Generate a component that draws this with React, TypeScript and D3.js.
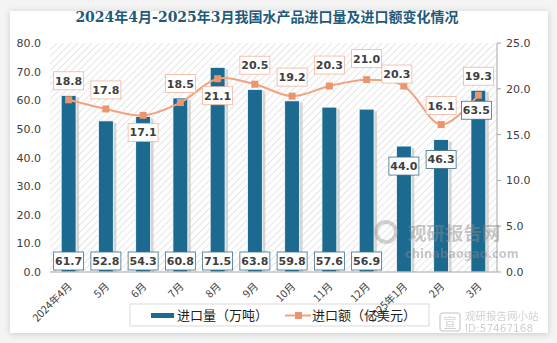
import React from "react";
import * as d3 from "d3";

const categories = ["2024年4月", "5月", "6月", "7月", "8月", "9月", "10月", "11月", "12月", "2025年1月", "2月", "3月"];
const volume = [61.7, 52.8, 54.3, 60.8, 71.5, 63.8, 59.8, 57.6, 56.9, 44.0, 46.3, 63.5];
const amount = [18.8, 17.8, 17.1, 18.5, 21.1, 20.5, 19.2, 20.3, 21.0, 20.3, 16.1, 19.3];
const leftTicks = [0, 10, 20, 30, 40, 50, 60, 70, 80];
const rightTicks = [0, 5, 10, 15, 20, 25];
// label placement: bar labels at base unless listed as "end"; line labels above unless "below"
const barLabelAtEnd = [9, 10, 11];
const lineLabelBelow = [2, 4];

const W = 557, H = 343;
const M = { left: 50, right: 497, top: 43, bottom: 272 };
const barColor = "#1c6a90";
const lineColor = "#f2a27f";
const markerColor = "#e9956d";
const textColor = "#404040";
const font = "'DejaVu Sans', 'Noto Sans CJK SC', sans-serif";
const cjk = "'Noto Sans CJK SC', 'DejaVu Sans', sans-serif";

export default function App() {
  const x = d3.scaleBand<string>().domain(categories).range([M.left, M.right]).paddingInner(0.6).paddingOuter(0.3);
  const yL = d3.scaleLinear().domain([0, 80]).range([M.bottom, M.top]);
  const yR = d3.scaleLinear().domain([0, 25]).range([M.bottom, M.top]);
  const cx = (i: number) => (x(categories[i]) as number) + x.bandwidth() / 2;
  const line = d3.line<number>().x((_, i) => cx(i)).y((d) => yR(d)).curve(d3.curveCatmullRom.alpha(0.5));
  const bw = x.bandwidth();

  return (
    <svg width={W} height={H} style={{ position: "absolute", left: 0, top: 0 }}>
      <defs>
        <pattern id="hatch" width="5" height="5" patternUnits="userSpaceOnUse" patternTransform="rotate(45)">
          <rect width="5" height="5" fill="#ffffff" />
          <line x1="0" y1="0" x2="0" y2="5" stroke="#d4d4d4" strokeWidth="1.2" />
        </pattern>
        <filter id="cardShadow" x="-5%" y="-5%" width="110%" height="110%">
          <feDropShadow dx="0" dy="1" stdDeviation="3" floodColor="#000" floodOpacity="0.18" />
        </filter>
      </defs>
      <rect x={0} y={0} width={W} height={H} fill="#f4f4f4" />
      <rect x={10} y={11} width={538} height={322} fill="#ffffff" filter="url(#cardShadow)" />

      <text x={267} y={22} textAnchor="middle" fontFamily="'DejaVu Serif', 'Noto Sans CJK SC', serif" fontWeight="bold" fontSize={14} fill="#1f5a7a">
        2024年4月-2025年3月我国水产品进口量及进口额变化情况
      </text>

      <rect x={M.left} y={M.top} width={M.right - M.left} height={M.bottom - M.top} fill="url(#hatch)" />

      {/* left axis labels */}
      {leftTicks.map((t) => (
        <text key={"l" + t} x={41} y={yL(t) + 4} textAnchor="end" fontFamily={font} fontSize={11} fill={textColor}>
          {t.toFixed(1)}
        </text>
      ))}
      {/* right axis */}
      <line x1={M.right} x2={M.right} y1={M.top} y2={M.bottom} stroke="#a6a6a6" />
      {rightTicks.map((t) => (
        <g key={"r" + t}>
          <line x1={M.right} x2={M.right + 4} y1={yR(t)} y2={yR(t)} stroke="#a6a6a6" />
          <text x={506} y={yR(t) + 4} fontFamily={font} fontSize={11} fill={textColor}>
            {t.toFixed(1)}
          </text>
        </g>
      ))}

      {/* bars */}
      {volume.map((v, i) => (
        <g key={"b" + i}>
          <rect x={(x(categories[i]) as number) + 3} y={yL(v) + 2} width={bw} height={M.bottom - yL(v) - 2} fill="#c4c4c4" opacity={0.7} />
          <rect x={x(categories[i])} y={yL(v)} width={bw} height={M.bottom - yL(v)} fill={barColor} stroke="#ffffff" strokeWidth={0.8} />
        </g>
      ))}
      <line x1={M.left} x2={M.right} y1={M.bottom} y2={M.bottom} stroke="#a6a6a6" />

      {/* watermark */}
      <g opacity={0.45}>
        <circle cx={386} cy={232} r={10} fill="none" stroke="#9a9a9a" strokeWidth={4} />
        <text x={408} y={240} fontFamily={cjk} fontWeight="bold" fontSize={18.5} fill="#8a8a8a">观研报告网</text>
        <text x={405} y={258} fontFamily={font} fontWeight="bold" fontSize={11.5} fill="#8a8a8a">chinabaogao.com</text>
      </g>

      {/* line */}
      <path d={line(amount) as string} fill="none" stroke={lineColor} strokeWidth={2} />
      {amount.map((v, i) => (
        <rect key={"m" + i} x={cx(i) - 3.5} y={yR(v) - 3.5} width={7} height={7} fill={markerColor} />
      ))}

      {/* bar labels */}
      {volume.map((v, i) => {
        const atEnd = barLabelAtEnd.includes(i);
        const cy = atEnd ? yL(v) + 20 : M.bottom - 11;
        const lx = i === 11 ? cx(i) - 2 : cx(i);
        return (
          <g key={"bl" + i}>
            <rect x={lx - 15} y={cy - 9} width={30} height={18} fill="#ffffff" stroke="#3d6f86" strokeWidth={0.8} />
            <text x={lx} y={cy + 4} textAnchor="middle" fontFamily={font} fontWeight="bold" fontSize={11} fill={textColor}>
              {v.toFixed(1)}
            </text>
          </g>
        );
      })}

      {/* line labels */}
      {amount.map((v, i) => {
        const below = lineLabelBelow.includes(i);
        let cy = below ? yR(v) + 17 : yR(v) - 19;
        let lx = cx(i);
        if (i === 9) { lx -= 7; cy = yR(v) - 12; }
        if (i === 8 || i === 7) cy = yR(v) - 21;
        return (
          <g key={"ll" + i}>
            <rect x={lx - 15} y={cy - 9} width={30} height={18} fill="#ffffff" stroke="#f0b49a" strokeWidth={0.8} />
            <text x={lx} y={cy + 4} textAnchor="middle" fontFamily={font} fontWeight="bold" fontSize={11} fill={textColor}>
              {v.toFixed(1)}
            </text>
          </g>
        );
      })}

      {/* legend */}
      <rect x={130} y={304} width={299} height={22} fill="#ffffff" fillOpacity={0.5} stroke="#d0d0d0" strokeWidth={0.8} />
      <rect x={151} y={313} width={23} height={5} fill={barColor} />
      <text x={177} y={320} fontFamily={cjk} fontSize={13} fill="#202020">进口量（万吨）</text>
      <line x1={285} x2={311} y1={315.5} y2={315.5} stroke={lineColor} strokeWidth={2} />
      <rect x={295} y={312} width={7} height={7} fill={markerColor} />
      <text x={312} y={320} fontFamily={cjk} fontSize={13} fill="#202020">进口额（亿美元）</text>

      {/* x labels */}
      {categories.map((c, i) => (
        <text key={"x" + c} transform={`translate(${cx(i) + 4},${M.bottom + 15}) rotate(-45)`} textAnchor="end" fontFamily={cjk} fontSize={10.5} fill={textColor}>
          {c}
        </text>
      ))}

      {/* bottom-right watermark */}
      <g opacity={0.4}>
        <rect x={440} y={313} width={20} height={18} rx={3} fill="none" stroke="#9a9a9a" strokeWidth={1.5} />
        <text x={450} y={327} textAnchor="middle" fontFamily={cjk} fontSize={13} fill="#8a8a8a">宣</text>
        <text x={465} y={320} fontFamily={cjk} fontSize={10.5} fill="#8a8a8a">观研报告网小站</text>
        <text x={465} y={332} fontFamily={font} fontSize={10.5} fill="#8a8a8a">ID:57467168</text>
      </g>
    </svg>
  );
}
